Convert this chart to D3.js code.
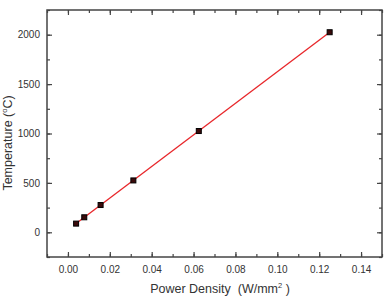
<!DOCTYPE html>
<html>
<head>
<meta charset="utf-8">
<script src="https://cdn.jsdelivr.net/npm/d3@7"></script>
<style>
  body { margin: 0; background: #fff; }
  text { font-family: "Liberation Sans", Arial, sans-serif; fill: #333; }
</style>
</head>
<body>
<script>
var w = 388;
var h = 297;

// data
var powerDensity = [0.0039, 0.0078, 0.0156, 0.03125, 0.0625, 0.125];
var temperature = [88, 152, 276, 525, 1025, 2025];
var xTicks = [0, 0.02, 0.04, 0.06, 0.08, 0.10, 0.12, 0.14];
var yTicks = [0, 500, 1000, 1500, 2000];

var padL = 47, padR = 382, padT = 10, padB = 257;

var svg = d3.select("body")
  .append("svg")
  .attr("width", w)
  .attr("height", h);

var x = d3.scaleLinear().domain([-0.01, 0.15]).range([padL, padR]);
var y = d3.scaleLinear().domain([-250, 2250]).range([padB, padT]);

var xMinor = d3.range(-0.01, 0.1501, 0.01).map(function(d) { return +d.toFixed(3); });
var yMinor = d3.range(-250, 2251, 250);

//axes, ticks pointing inward on all four sides
function axisGroup(axis, tx, ty) {
  var g = svg.append("g").attr("transform", "translate(" + tx + "," + ty + ")").call(axis);
  g.select(".domain").remove();
  g.selectAll("line").attr("stroke", "#444").attr("stroke-width", 1.2);
  return g;
}

axisGroup(d3.axisBottom(x).tickValues(xMinor).tickSize(-3).tickFormat(""), 0, padB);
axisGroup(d3.axisTop(x).tickValues(xMinor).tickSize(-3).tickFormat(""), 0, padT);
axisGroup(d3.axisLeft(y).tickValues(yMinor).tickSize(-3).tickFormat(""), padL, 0);
axisGroup(d3.axisRight(y).tickValues(yMinor).tickSize(-3).tickFormat(""), padR, 0);

var xb = axisGroup(d3.axisBottom(x).tickValues(xTicks).tickSize(-5).tickPadding(9).tickFormat(d3.format(".2f")), 0, padB);
xb.selectAll("text").style("font-size", "10px").attr("fill", "#333");
axisGroup(d3.axisTop(x).tickValues(xTicks).tickSize(-5).tickFormat(""), 0, padT);
var yl = axisGroup(d3.axisLeft(y).tickValues(yTicks).tickSize(-5).tickPadding(7).tickFormat(d3.format("d")), padL, 0);
yl.selectAll("text").style("font-size", "10px").attr("fill", "#333");
axisGroup(d3.axisRight(y).tickValues(yTicks).tickSize(-5).tickFormat(""), padR, 0);

//frame
svg.append("rect")
  .attr("x", padL).attr("y", padT)
  .attr("width", padR - padL).attr("height", padB - padT)
  .attr("fill", "none")
  .attr("stroke", "#444")
  .attr("stroke-width", 1.5);

//linear fit line
var mx = d3.mean(powerDensity), my = d3.mean(temperature);
var sxy = d3.sum(powerDensity, function(d, i) { return (d - mx) * (temperature[i] - my); });
var sxx = d3.sum(powerDensity, function(d) { return (d - mx) * (d - mx); });
var slope = sxy / sxx, icpt = my - slope * mx;
var x0 = d3.min(powerDensity), x1 = d3.max(powerDensity);

svg.append("line")
  .attr("x1", x(x0)).attr("y1", y(icpt + slope * x0))
  .attr("x2", x(x1)).attr("y2", y(icpt + slope * x1))
  .attr("stroke", "#e8262a")
  .attr("stroke-width", 1.3);

//points
svg.selectAll("rect.pt")
  .data(powerDensity)
  .enter().append("rect")
  .attr("class", "pt")
  .attr("x", function(d) { return x(d) - 2.5; })
  .attr("y", function(d, i) { return y(temperature[i]) - 2.5; })
  .attr("width", 5).attr("height", 5)
  .attr("fill", "#3a0a0a")
  .attr("stroke", "#000")
  .attr("stroke-width", 1);

//titles
var xt = svg.append("text")
  .attr("x", 220).attr("y", 293)
  .attr("text-anchor", "middle")
  .style("font-size", "12.5px");
xt.append("tspan").text("Power Density\u00a0\u00a0(W/mm");
xt.append("tspan").attr("dy", -5).style("font-size", "7.5px").text("2");
xt.append("tspan").attr("dy", 5).text("\u00a0)");

var yt = svg.append("text")
  .attr("transform", "translate(12,143) rotate(-90)")
  .attr("text-anchor", "middle")
  .style("font-size", "12.5px");
yt.append("tspan").text("Temperature (");
yt.append("tspan").attr("dy", -5).style("font-size", "7.5px").text("o");
yt.append("tspan").attr("dy", 5).text("C)");
</script>
</body>
</html>
